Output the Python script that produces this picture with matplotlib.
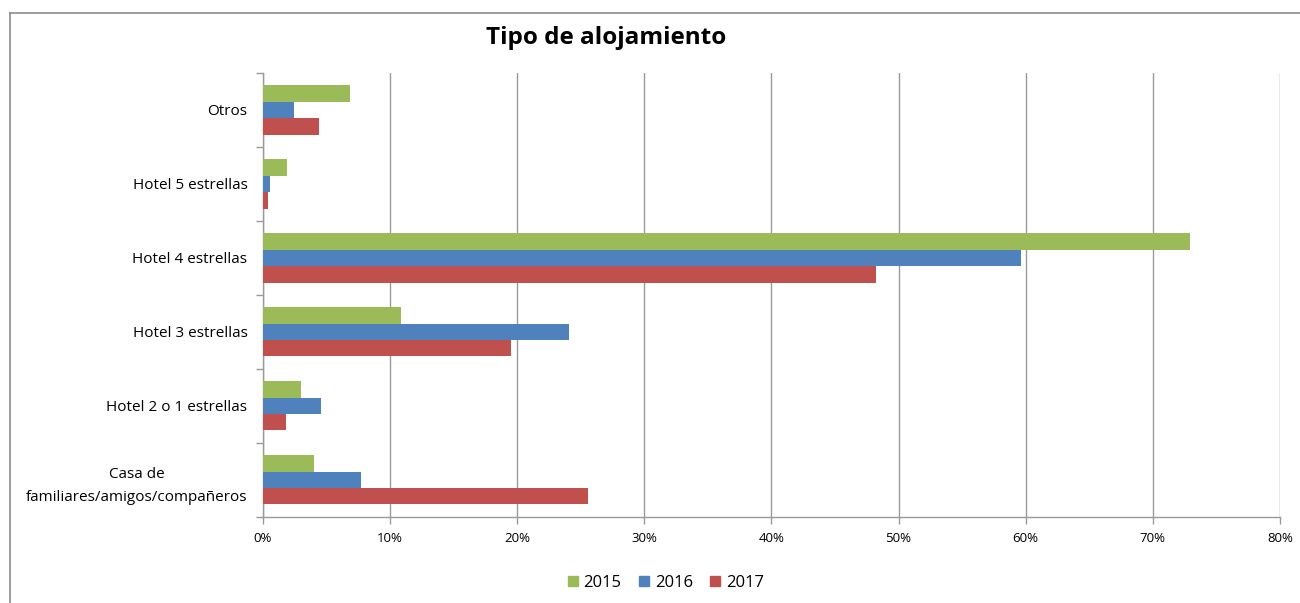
import matplotlib
matplotlib.use("Agg")
import matplotlib.pyplot as plt
from matplotlib.lines import Line2D
from matplotlib.ticker import FuncFormatter, MultipleLocator
import numpy as np

plt.rcParams['font.family'] = ['Open Sans', 'DejaVu Sans']

categories = ["Casa de\nfamiliares/amigos/compañeros", "Hotel 2 o 1 estrellas",
              "Hotel 3 estrellas", "Hotel 4 estrellas", "Hotel 5 estrellas", "Otros"]
years = ["2015", "2016", "2017"]
v2015 = [4.0, 3.0, 10.9, 72.9, 1.9, 6.9]
v2016 = [7.7, 4.6, 24.1, 59.6, 0.6, 2.5]
v2017 = [25.6, 1.8, 19.5, 48.2, 0.4, 4.4]
colors = ["#9BBB59", "#4F81BD", "#C0504D"]

W, H = 1300, 603
fig = plt.figure(figsize=(W / 100, H / 100), dpi=100)
ax = fig.add_axes([262.7 / W, 1 - 516.7 / H, (1280 - 262.7) / W, (516.7 - 73) / H])

y = np.arange(len(categories))
bh = 1 / 4.5
series = [v2015, v2016, v2017]
for i, (vals, c) in enumerate(zip(series, colors)):
    ax.barh(y + bh - i * bh, vals, height=bh, color=c, label=years[i], zorder=3)

ax.set_xlim(0, 80)
ax.set_ylim(-0.5, len(categories) - 0.5)
ax.xaxis.set_major_locator(MultipleLocator(10))
ax.xaxis.set_major_formatter(FuncFormatter(lambda v, p: f"{int(v)}%"))
ax.set_yticks(y)
ax.set_yticklabels(categories, fontsize=11, linespacing=1.75)
ax.set_yticks(np.arange(-0.5, len(categories)), minor=True)
ax.tick_params(axis='y', which='major', length=0, pad=11)
ax.tick_params(axis='y', which='minor', length=5, color='#999999', width=1)
ax.tick_params(axis='x', length=5, color='#999999', width=1, labelsize=9.5, pad=6)
for lab in ax.get_yticklabels():
    lab.set_horizontalalignment('right')
    if "\n" in lab.get_text():
        lab.set_multialignment('center')

ax.grid(axis='x', color='#9a9a9a', linewidth=1, zorder=0)
for s in ['top', 'right']:
    ax.spines[s].set_visible(False)
for s in ['left', 'bottom']:
    ax.spines[s].set_color('#9a9a9a')
    ax.spines[s].set_linewidth(1)

fig.text(606 / W, 1 - 38 / H, "Tipo de alojamiento", ha='center', va='center',
         fontsize=17.5, fontweight='bold')

handles = [Line2D([], [], marker='s', linestyle='none', markersize=7.5,
                  markerfacecolor=c, markeredgecolor=c) for c in colors]
fig.legend(handles, years, loc='center', bbox_to_anchor=(663 / W, 1 - 583 / H),
           ncol=3, frameon=False, fontsize=12, handletextpad=0.0, columnspacing=0.7,
           handlelength=1.3)

# outer chart border (top and left visible)
fig.add_artist(Line2D([10 / W, 1.0], [1 - 13 / H, 1 - 13 / H], color='#8c8c8c', linewidth=1.2))
fig.add_artist(Line2D([10 / W, 10 / W], [0, 1 - 13 / H], color='#8c8c8c', linewidth=1.2))

fig.savefig("out.png", dpi=100)
